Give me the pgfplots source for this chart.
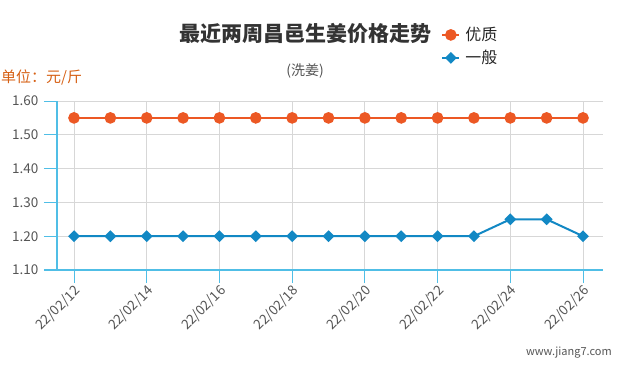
\documentclass[border=0pt]{standalone}
\usepackage{fontspec}
\setmainfont{Noto Sans CJK SC}
\usepackage{pgfplots}
\pgfplotsset{compat=1.18}
\definecolor{orangeS}{RGB}{236,88,36}
\definecolor{blueS}{RGB}{18,136,196}
\definecolor{axisB}{RGB}{80,190,230}
\definecolor{gridG}{RGB}{215,215,215}
\definecolor{txtG}{RGB}{85,85,85}
\definecolor{unitO}{RGB}{214,96,20}
\begin{document}
\begin{tikzpicture}
\useasboundingbox (0pt,0pt) rectangle (621pt,370pt);
\begin{axis}[
  at={(57pt,100pt)}, anchor=south west,
  scale only axis, width=546pt, height=169pt,
  xmin=-0.468, xmax=14.55, ymin=1.10, ymax=1.60,
  axis x line=bottom, axis y line=left,
  axis line style={-, draw=axisB, line width=1.2pt},
  x axis line style={shorten <=-13pt},
  xtick={0,2,4,6,8,10,12,14},
  xticklabels={22/02/12,22/02/14,22/02/16,22/02/18,22/02/20,22/02/22,22/02/24,22/02/26},
  ytick={1.1,1.2,1.3,1.4,1.5,1.6},
  yticklabels={1.10,1.20,1.30,1.40,1.50,1.60},
  xmajorgrids, ymajorgrids,
  grid style={draw=gridG, line width=0.8pt},
  tick style={draw=axisB, line width=1pt},
  major tick length=13pt,
  x tick style={shorten >=1pt},
  tick align=outside,
  xticklabel style={rotate=45, anchor=north east, font=\fontsize{13.5}{13.5}\selectfont, text=txtG, inner sep=1pt, yshift=1pt},
  yticklabel style={font=\fontsize{13.5}{13.5}\selectfont, text=txtG, xshift=-2pt},
  /pgf/number format/assume math mode=true,
  clip=false,
  legend style={at={(axis description cs:0.698,1.46)}, anchor=north west, draw=none, fill=none,
    font=\fontsize{16}{16}\selectfont, row sep=4pt, text=black!85, nodes={inner xsep=5pt}},
  legend cell align=left,
]
\addplot[orangeS, line width=2pt, mark=*, mark size=4.8pt, mark options={fill=orangeS, draw=orangeS}]
 coordinates {(0,1.55)(1,1.55)(2,1.55)(3,1.55)(4,1.55)(5,1.55)(6,1.55)(7,1.55)(8,1.55)(9,1.55)(10,1.55)(11,1.55)(12,1.55)(13,1.55)(14,1.55)};
\addlegendentry{优质}
\addplot[blueS, line width=2pt, mark=square*, mark size=3.2pt, mark options={fill=blueS, draw=blueS, rotate=45}]
 coordinates {(0,1.20)(1,1.20)(2,1.20)(3,1.20)(4,1.20)(5,1.20)(6,1.20)(7,1.20)(8,1.20)(9,1.20)(10,1.20)(11,1.20)(12,1.25)(13,1.25)(14,1.20)};
\addlegendentry{一般}
\end{axis}
\node[font=\bfseries\fontsize{21}{21}\selectfont, text=black!80] at (305pt,337pt) {最近两周昌邑生姜价格走势};
\node[font=\fontsize{14}{14}\selectfont, text=txtG] at (305pt,299pt) {(洗姜)};
\node[font=\fontsize{15}{15}\selectfont, text=unitO, anchor=west, inner sep=0pt] at (1pt,293pt) {单位：元/斤};
\node[font=\fontsize{11}{11}\selectfont, text=txtG, anchor=east, inner sep=0pt] at (612pt,17pt) {www.jiang7.com};
\end{tikzpicture}
\end{document}
